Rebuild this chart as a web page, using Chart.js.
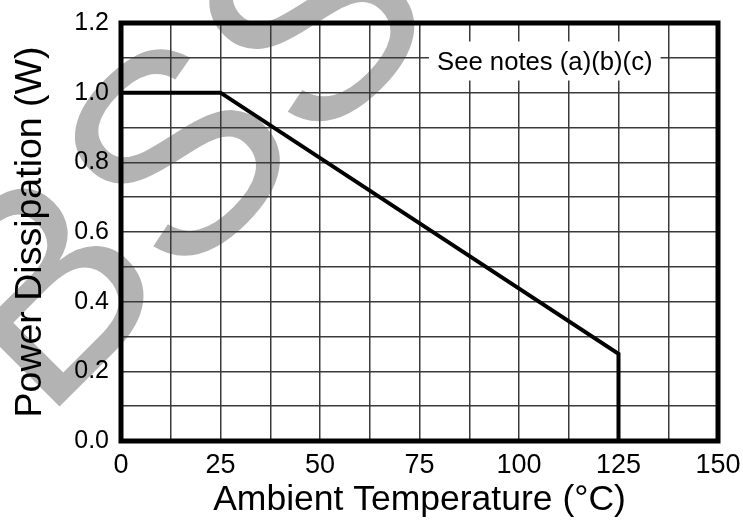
<!DOCTYPE html>
<html>
<head>
<meta charset="utf-8">
<script src="https://cdn.jsdelivr.net/npm/chart.js@4.4.1/dist/chart.umd.min.js"></script>
<style>
  html, body { margin: 0; padding: 0; background: #fff; }
  #wrap { width: 743px; height: 525px; }
</style>
</head>
<body>
<div id="wrap"><canvas id="deratingChart" width="743" height="525"></canvas></div>
<script>
// derating curve
const tempC = [0, 25, 125, 125, 150];
const powerW = [1.0, 1.0, 0.25, 0.0, 0.0];

// labelled ticks (grid runs every 12.5 °C and every 0.1 W)
const xTickLabels = [0, 25, 50, 75, 100, 125, 150];
const yTickLabels = [0.0, 0.2, 0.4, 0.6, 0.8, 1.0, 1.2];
const noteText = 'See notes (a)(b)(c)';
const stampText = 'BSS';

document.addEventListener('DOMContentLoaded', function() {
  renderChart();
});

function renderChart() {
  const ctx = document.getElementById('deratingChart').getContext('2d');
  const fontFamily = '"Liberation Sans", Arial, Helvetica, sans-serif';

  const data = {
    datasets: [{
      label: 'Power Dissipation',
      data: tempC.map((t, i) => ({ x: t, y: powerW[i] })),
      borderColor: '#000',
      borderWidth: 4,
      pointRadius: 0,
      fill: false,
      tension: 0
    }]
  };

  const gridStyle = {
    color: '#3a3a3a',
    lineWidth: 1.5,
    drawTicks: false
  };

  const options = {
    responsive: false,
    animation: false,
    devicePixelRatio: 1,
    scales: {
      x: {
        type: 'linear',
        min: 0,
        max: 150,
        ticks: {
          stepSize: 12.5,
          padding: 8,
          maxRotation: 0,
          autoSkip: false,
          color: '#000',
          font: { family: fontFamily, size: 27 },
          callback: function(value) {
            return xTickLabels.includes(value) ? String(value) : '';
          }
        },
        grid: gridStyle,
        border: { display: false },
        title: {
          display: true,
          text: 'Ambient Temperature (°C)',
          color: '#000',
          font: { family: fontFamily, size: 35.5 },
          padding: { top: 0, bottom: 3 }
        },
        afterFit: function(scale) {
          scale.height = 84;
          scale.paddingLeft = 0;
          scale.paddingRight = 0;
        }
      },
      y: {
        min: 0,
        max: 1.2,
        ticks: {
          stepSize: 0.1,
          padding: 12,
          autoSkip: false,
          color: '#000',
          font: { family: fontFamily, size: 25 },
          callback: function(value) {
            const v = Math.round(value * 10) / 10;
            return yTickLabels.includes(v) ? v.toFixed(1) : '';
          }
        },
        grid: gridStyle,
        border: { display: false },
        title: {
          display: true,
          text: 'Power Dissipation (W)',
          color: '#000',
          font: { family: fontFamily, size: 37.5 },
          padding: { top: 8, bottom: 0 }
        },
        afterFit: function(scale) {
          scale.width = 121;
          scale.paddingTop = 0;
          scale.paddingBottom = 0;
        }
      }
    },
    plugins: {
      legend: { display: false },
      tooltip: { enabled: false }
    },
    layout: {
      padding: { top: 23, right: 25, left: 0, bottom: 0 }
    }
  };

  // grey stamp lying under everything
  const stamp = {
    id: 'stamp',
    beforeDraw(chart) {
      const c = chart.ctx;
      c.save();
      c.translate(43, 423);
      c.rotate(-45 * Math.PI / 180);
      c.font = '285px ' + fontFamily;
      c.fillStyle = '#b3b3b3';
      c.textBaseline = 'alphabetic';
      c.fillText(stampText, 0, 0);
      c.restore();
    }
  };

  // note box + heavy frame round the plot
  const frameAndNote = {
    id: 'frameAndNote',
    afterDraw(chart) {
      const c = chart.ctx;
      const area = chart.chartArea;
      c.save();
      c.font = '25.7px ' + fontFamily;
      const w = c.measureText(noteText).width;
      const tx = area.right - 281;
      const ty = area.top + 39.5;
      c.fillStyle = '#fff';
      c.fillRect(tx - 8, ty - 21, w + 16, 39);
      c.fillStyle = '#000';
      c.textBaseline = 'middle';
      c.fillText(noteText, tx, ty);

      c.strokeStyle = '#000';
      c.lineWidth = 5;
      c.strokeRect(area.left, area.top, area.right - area.left, area.bottom - area.top);
      c.restore();
    }
  };

  window.deratingChart = new Chart(ctx, {
    type: 'line',
    data: data,
    options: options,
    plugins: [stamp, frameAndNote]
  });
}
</script>
</body>
</html>
